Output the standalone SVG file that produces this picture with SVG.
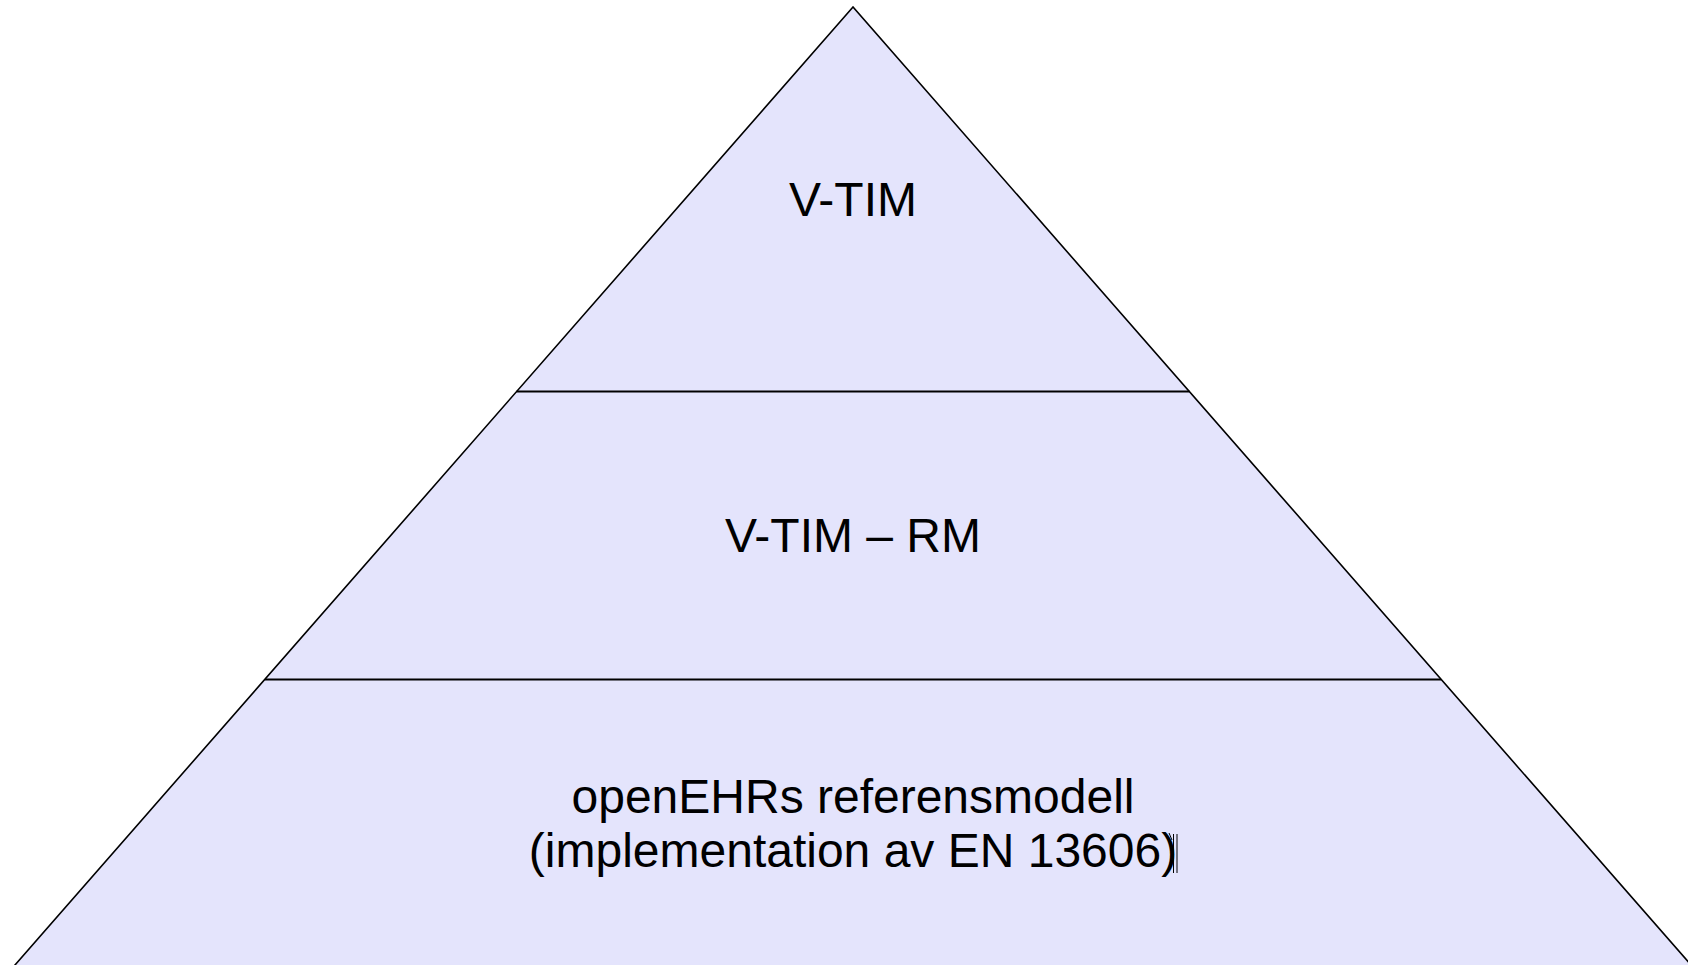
<svg xmlns="http://www.w3.org/2000/svg" width="1688" height="965" viewBox="0 0 1688 965">
<style>
.edge{fill:#e4e4fc;stroke:#000;stroke-width:1.6}
.sep{stroke:#000;stroke-width:2.2;fill:none}
.lbl{font-family:"Liberation Sans",Arial,sans-serif;font-size:48px;fill:#000;text-anchor:middle}
</style>
<rect width="1688" height="965" fill="#fff"/>
<g id="pyramid">
<polygon class="edge" points="853,7 10.6,970 1695.4,970"/>
</g>
<g id="connectors">
<line class="sep" x1="516.5" y1="391.5" x2="1189.5" y2="391.5"/>
<line class="sep" x1="265" y1="679.5" x2="1441" y2="679.5"/>
</g>
<g id="node-vtim">
<text class="lbl" x="853" y="216">V-TIM</text>
</g>
<g id="node-vtim-rm">
<text class="lbl" x="853" y="552">V-TIM – RM</text>
</g>
<g id="node-openehr">
<text class="lbl" x="853" y="813">openEHRs referensmodell</text>
<text class="lbl" x="853" y="867">(implementation av EN 13606)</text>
<path d="M1173.5,834 V873 M1177,834 V873 M1169,833 L1172,840" stroke="#000" stroke-width="1" fill="none"/>
</g>
</svg>
